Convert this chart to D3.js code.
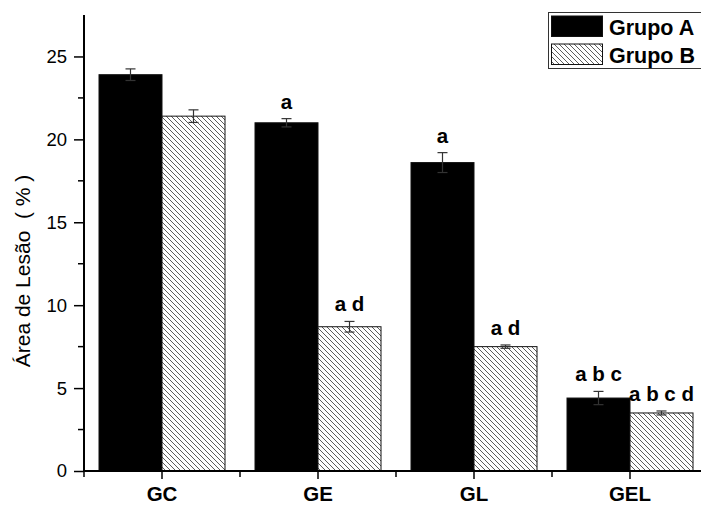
<!DOCTYPE html>
<html><head><meta charset="utf-8">
<script src="https://cdn.jsdelivr.net/npm/d3@7"></script>
<style>html,body{margin:0;padding:0;background:#fff;}svg{display:block;}</style>
</head><body>
<script>
const categories = ["GC", "GE", "GL", "GEL"];
const groups = ["Grupo A", "Grupo B"];
const valuesA = [23.9, 21.0, 18.6, 4.4];
const valuesB = [21.4, 8.7, 7.5, 3.5];
const errorsA = [0.35, 0.25, 0.6, 0.4];
const errorsB = [0.38, 0.32, 0.1, 0.12];
const labelsA = ["", "a", "a", "a b c"];
const labelsB = ["", "a d", "a d", "a b c d"];
const yTicks = [0, 5, 10, 15, 20, 25];
const yMinorTicks = [2.5, 7.5, 12.5, 17.5, 22.5];
const yTitle = "Área de Lesão  ( % )";

const W = 701, H = 505;
const svg = d3.select("body").append("svg").attr("width", W).attr("height", H);
const defs = svg.append("defs");
const pat = defs.append("pattern").attr("id", "hatch").attr("patternUnits", "userSpaceOnUse")
  .attr("width", 5).attr("height", 5);
pat.append("rect").attr("width", 5).attr("height", 5).attr("fill", "#fff");
pat.append("path").attr("d", "M-1,-1 L6,6 M-1,4 L1,6 M4,-1 L6,1").attr("stroke", "#333").attr("stroke-width", 0.8);

const y = d3.scaleLinear().domain([0, 27.5]).range([471, 15]);
const x0 = d3.scaleBand().domain(categories).range([84, 708]).paddingInner(30/156).paddingOuter(15/156);
const x1 = d3.scaleBand().domain(groups).range([0, x0.bandwidth()]);

const font = "Liberation Sans, Arial, Helvetica, sans-serif";
const series = [
  {g: groups[0], vals: valuesA, errs: errorsA, labs: labelsA, fill: "#000"},
  {g: groups[1], vals: valuesB, errs: errorsB, labs: labelsB, fill: "url(#hatch)"}
];

series.forEach(s => {
  categories.forEach((c, i) => {
    const bx = x0(c) + x1(s.g), bw = x1.bandwidth();
    svg.append("rect").attr("x", bx).attr("y", y(s.vals[i])).attr("width", bw)
      .attr("height", y(0) - y(s.vals[i])).attr("fill", s.fill).attr("stroke", "#111").attr("stroke-width", 1);
    const cx = bx + bw / 2;
    const top = y(s.vals[i] + s.errs[i]), bot = y(s.vals[i] - s.errs[i]);
    const eg = svg.append("g").attr("stroke", "#333").attr("stroke-width", 1.2);
    eg.append("line").attr("x1", cx).attr("x2", cx).attr("y1", top).attr("y2", bot);
    eg.append("line").attr("x1", cx - 5).attr("x2", cx + 5).attr("y1", top).attr("y2", top);
    eg.append("line").attr("x1", cx - 5).attr("x2", cx + 5).attr("y1", bot).attr("y2", bot);
    if (s.labs[i]) {
      svg.append("text").attr("x", cx).attr("y", top - 10).attr("text-anchor", "middle")
        .attr("font-family", font).attr("font-weight", "bold").attr("font-size", 20.5)
        .text(s.labs[i]);
    }
  });
});

// Y axis
const yAxisG = svg.append("g").attr("transform", "translate(84,0)");
yAxisG.call(d3.axisLeft(y).tickValues(yTicks).tickSize(10).tickPadding(7).tickFormat(d3.format("d")));
yAxisG.selectAll(".tick text").attr("font-family", font).attr("font-size", 18.5).attr("fill", "#000");
yAxisG.selectAll(".tick line").attr("stroke-width", 1.5);
yAxisG.select(".domain").remove();
yAxisG.append("g").selectAll("line").data(yMinorTicks).join("line")
  .attr("x1", -6).attr("x2", 0).attr("y1", d => y(d)).attr("y2", d => y(d))
  .attr("stroke", "#000").attr("stroke-width", 1.5);
yAxisG.append("line").attr("x1", 0).attr("x2", 0).attr("y1", 15).attr("y2", 472).attr("stroke", "#000").attr("stroke-width", 2);

// X axis
const xAxisG = svg.append("g").attr("transform", "translate(0,471)");
xAxisG.call(d3.axisBottom(x0).tickSize(8).tickPadding(7));
xAxisG.selectAll(".tick text").attr("font-family", font).attr("font-size", 20.5).attr("font-weight", "bold").attr("fill", "#000");
xAxisG.selectAll(".tick line").attr("stroke-width", 1.5);
xAxisG.select(".domain").remove();
const minorX = categories.map(c => x0(c) + x0.bandwidth() / 2 - x0.step() / 2);
xAxisG.append("g").selectAll("line").data(minorX).join("line")
  .attr("x1", d => d).attr("x2", d => d).attr("y1", 0).attr("y2", 6)
  .attr("stroke", "#000").attr("stroke-width", 1.5);
xAxisG.append("line").attr("x1", 83).attr("x2", 708).attr("y1", 0).attr("y2", 0).attr("stroke", "#000").attr("stroke-width", 2);

// Y title
svg.append("text").attr("transform", "translate(30,271) rotate(-90)").attr("text-anchor", "middle")
  .attr("font-family", font).attr("font-size", 21).attr("xml:space", "preserve").style("white-space", "pre")
  .text(yTitle);

// Legend
const lg = svg.append("g");
lg.append("rect").attr("x", 548.5).attr("y", 12.5).attr("width", 160).attr("height", 56)
  .attr("fill", "#fff").attr("stroke", "#333").attr("stroke-width", 1);
series.forEach((s, i) => {
  const yy = [16, 44][i];
  lg.append("rect").attr("x", 551.5).attr("y", yy).attr("width", 51).attr("height", 20.5)
    .attr("fill", s.fill).attr("stroke", "#111").attr("stroke-width", 1);
  lg.append("text").attr("x", 609).attr("y", yy + 19).attr("font-family", font)
    .attr("font-weight", "bold").attr("font-size", 21.5).text(s.g);
});
</script>
</body></html>
